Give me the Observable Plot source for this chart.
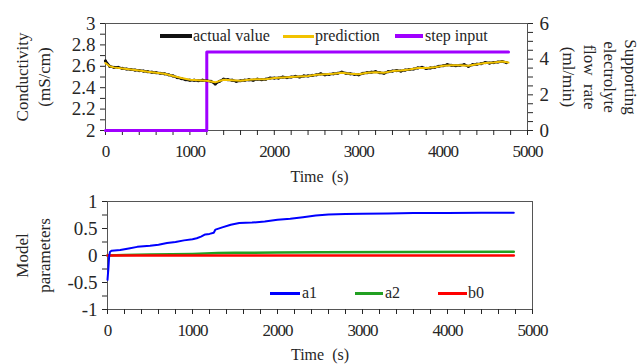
<!DOCTYPE html>
<html><head><meta charset="utf-8">
<script src="https://cdn.jsdelivr.net/npm/d3@7"></script>
<script src="https://cdn.jsdelivr.net/npm/@observablehq/plot@0.6"></script>
<style>
body{margin:0;background:#fff;}
#chart{position:relative;width:640px;height:364px;font-family:"Liberation Serif","Times New Roman",Tinos,"DejaVu Serif",serif;color:#262626;overflow:hidden;background:#fff}
#chart svg{position:absolute;left:0}
#chart svg text{font-family:"Liberation Serif","Times New Roman",Tinos,"DejaVu Serif",serif}
.lg{position:absolute;font-family:"Liberation Serif","Times New Roman",serif;font-size:16px;line-height:16px;white-space:pre;color:#262626}
.sw{position:absolute}
[aria-label="x-axis tick label"]{letter-spacing:-1px}
</style></head><body><div id="chart"></div>
<script>
// ---- top panel data ----
const actualTime = [0,50,100,150,200,250,300,350,400,450,500,550,600,650,700,750,800,850,900,950,
  1000,1050,1100,1150,1200,1250,1300,1350,1400,1450,1500,1550,1600,1650,1700,1750,1800,1850,1900,1950,
  2000,2050,2100,2150,2200,2250,2300,2350,2400,2450,2500,2550,2600,2650,2700,2750,2800,2850,2900,2950,
  3000,3050,3100,3150,3200,3250,3300,3350,3400,3450,3500,3550,3600,3650,3700,3750,3800,3850,3900,3950,
  4000,4050,4100,4150,4200,4250,4300,4350,4400,4450,4500,4550,4600,4650,4700,4750];
const actualValue = [2.65,2.60,2.59,2.59,2.58,2.575,2.57,2.565,2.56,2.555,
  2.55,2.545,2.54,2.535,2.53,2.52,2.51,2.495,2.485,2.475,
  2.47,2.47,2.465,2.47,2.465,2.46,2.435,2.46,2.48,2.475,
  2.47,2.46,2.465,2.47,2.475,2.47,2.48,2.475,2.48,2.49,
  2.49,2.49,2.5,2.495,2.5,2.505,2.5,2.51,2.51,2.515,
  2.52,2.53,2.52,2.525,2.53,2.535,2.545,2.535,2.53,2.525,
  2.52,2.535,2.54,2.545,2.55,2.54,2.535,2.55,2.555,2.56,
  2.555,2.565,2.57,2.575,2.585,2.59,2.58,2.585,2.59,2.6,
  2.605,2.615,2.61,2.605,2.61,2.615,2.6,2.615,2.62,2.625,
  2.635,2.63,2.635,2.64,2.645,2.635];
const predTime = [0,50,100,200,300,400,500,600,700,800,900,1000,1100,1200,1300,1400,1500,1600,1700,1800,1900,
  2000,2100,2200,2300,2400,2500,2600,2700,2800,2900,3000,3100,3200,3300,3400,3500,3600,3700,3800,3900,
  4000,4100,4200,4300,4400,4500,4600,4700,4775];
const predValue = [2.63,2.60,2.59,2.58,2.57,2.56,2.55,2.54,2.53,2.51,2.49,2.475,2.47,2.465,2.45,2.475,2.47,2.465,2.475,2.48,2.48,
  2.49,2.495,2.5,2.505,2.51,2.52,2.525,2.53,2.54,2.53,2.525,2.54,2.545,2.54,2.555,2.56,2.57,2.585,2.585,2.59,
  2.605,2.61,2.61,2.605,2.62,2.63,2.635,2.645,2.635];
const stepTime = [0,1200,1200,4775];
const stepFlow = [0,0,4.4,4.4];
const xTicks = [0,200,400,600,800,1000,1200,1400,1600,1800,2000,2200,2400,2600,2800,3000,3200,3400,3600,3800,4000,4200,4400,4600,4800,5000];
const xLabels = [0,1000,2000,3000,4000,5000];
const condTicks = [2,2.1,2.2,2.3,2.4,2.5,2.6,2.7,2.8,2.9,3];
const condLabels = [2,2.2,2.4,2.6,2.8,3];
const flowTicks = [0,0.5,1,1.5,2,2.5,3,3.5,4,4.5,5,5.5,6];
const flowLabels = [0,2,4,6];
// ---- bottom panel data ----
const a1Time = [0,10,20,30,50,150,250,350,500,600,700,800,900,1000,1050,1100,1150,1200,1250,1270,1350,1450,1550,1700,1850,2000,2150,2300,2450,2600,2800,3000,3300,3600,4000,4400,4780];
const a1Value = [-0.45,-0.25,0.0,0.07,0.09,0.10,0.13,0.16,0.18,0.20,0.23,0.25,0.28,0.30,0.32,0.35,0.39,0.40,0.42,0.48,0.52,0.57,0.60,0.61,0.63,0.66,0.68,0.71,0.74,0.76,0.77,0.775,0.78,0.785,0.785,0.79,0.79];
const a2Time = [0,200,500,1000,1300,1500,2000,2500,3500,4780];
const a2Value = [0.0,0.01,0.02,0.03,0.045,0.05,0.055,0.06,0.065,0.07];
const b0Time = [0,1000,2000,3000,4000,4780];
const b0Value = [0.0,0.0,0.0,0.0,0.0,0.0];
const paramTicks = [-1,-0.75,-0.5,-0.25,0,0.25,0.5,0.75,1];
const paramLabels = [-1,-0.5,0,0.5,1];

const flowToCond = f => 2 + f / 6; // right axis (0–6) onto left axis (2–3)
const zip = (ts, vs) => ts.map((t, i) => ({t, v: vs[i]}));
const actual = zip(actualTime, actualValue);
const pred = zip(predTime, predValue);
const step = zip(stepTime, stepFlow);
const a1 = zip(a1Time, a1Value), a2 = zip(a2Time, a2Value), b0 = zip(b0Time, b0Value);
const has = (arr, d) => arr.some(v => Math.abs(v - d) < 1e-9);
const ink = "#262626";
const serif = "'Liberation Serif', 'Times New Roman', Tinos, 'DejaVu Serif', serif";
const baseStyle = {fontFamily: serif, fontSize: "19px", color: ink, background: "transparent", overflow: "visible"};

const topPlot = Plot.plot({
  width: 640, height: 190,
  marginTop: 23, marginBottom: 60, marginLeft: 105, marginRight: 113,
  style: baseStyle,
  x: {domain: [0, 5000], label: null},
  y: {domain: [2, 3], label: null},
  marks: [
    Plot.frame({stroke: "#555"}),
    Plot.axisX(xTicks, {tickSize: 5, tickPadding: 9, fontSize: 17, fontFamily: serif, stroke: ink, label: null,
      tickFormat: d => has(xLabels, d) ? String(d) : ""}),
    Plot.axisY(condTicks, {tickSize: 5, tickPadding: 5, fontFamily: serif, stroke: ink, label: null,
      tickFormat: d => has(condLabels, d) ? String(d) : ""}),
    Plot.axisY(flowTicks.map(flowToCond), {anchor: "right", tickSize: 5, tickPadding: 7, fontFamily: serif, stroke: ink, label: null,
      tickFormat: (d, i) => has(flowLabels, flowTicks[i]) ? String(flowTicks[i]) : ""}),
    Plot.line(step, {x: "t", y: d => flowToCond(d.v), stroke: "#a000ff", strokeWidth: 3}),
    Plot.line(actual, {x: "t", y: "v", stroke: "#111", strokeWidth: 2.5}),
    Plot.dot(actual, {x: "t", y: "v", r: 1.6, fill: "#111"}),
    Plot.line(pred, {x: "t", y: "v", stroke: "#f2c200", strokeWidth: 2}),
    Plot.text(["Conductivity\n(mS/cm)"], {text: d => d, frameAnchor: "left", textAnchor: "middle", dx: -74, rotate: -90, fontSize: 17, lineHeight: 1.3, fill: ink}),
    Plot.text(["Supporting\nelectrolyte\nflow\u00a0\u00a0rate\n(ml/min)"], {text: d => d, frameAnchor: "right", textAnchor: "middle", dx: 73, rotate: 90, fontSize: 17, lineHeight: 1.2, fill: ink}),
    Plot.text(["Time\u00a0\u00a0(s)"], {text: d => d, frameAnchor: "bottom", dy: 51, dx: 3, fontSize: 16, fill: ink})
  ]
});

const bottomPlot = Plot.plot({
  width: 640, height: 174,
  marginTop: 11, marginBottom: 55, marginLeft: 107, marginRight: 108,
  style: baseStyle,
  x: {domain: [0, 5000], label: null},
  y: {domain: [-1, 1], label: null},
  marks: [
    Plot.frame({stroke: "#555"}),
    Plot.axisX(xTicks, {tickSize: 5, tickPadding: 9, fontSize: 17, fontFamily: serif, stroke: ink, label: null,
      tickFormat: d => has(xLabels, d) ? String(d) : ""}),
    Plot.axisY(paramTicks, {tickSize: 5, tickPadding: 5, fontFamily: serif, stroke: ink, label: null,
      tickFormat: d => has(paramLabels, d) ? String(d) : ""}),
    Plot.line(a2, {x: "t", y: "v", stroke: "#22a022", strokeWidth: 2.5}),
    Plot.line(b0, {x: "t", y: "v", stroke: "#ff0000", strokeWidth: 2.5}),
    Plot.line(a1, {x: "t", y: "v", stroke: "#0000ff", strokeWidth: 2}),
    Plot.text(["Model\nparameters"], {text: d => d, frameAnchor: "left", textAnchor: "middle", dx: -76, rotate: -90, fontSize: 17, lineHeight: 1.3, fill: ink}),
    Plot.text(["Time\u00a0\u00a0(s)"], {text: d => d, frameAnchor: "bottom", dy: 50, fontSize: 16, fill: ink})
  ]
});

const chart = document.getElementById("chart");
topPlot.style.top = "0px";
bottomPlot.style.top = "190px";
chart.appendChild(topPlot);
chart.appendChild(bottomPlot);

// legends
const legendItems = [
  {name: "actual value", color: "#111", sx: 160, sw: 32, th: 4, y: 36, tx: 193},
  {name: "prediction", color: "#f2c200", sx: 283, sw: 31, th: 3, y: 36, tx: 315},
  {name: "step input", color: "#a000ff", sx: 395, sw: 28, th: 4, y: 36, tx: 425},
  {name: "a1", color: "#0000ff", sx: 270, sw: 30, th: 3, y: 293, tx: 302},
  {name: "a2", color: "#22a022", sx: 355, sw: 28, th: 3, y: 293, tx: 385},
  {name: "b0", color: "#ff0000", sx: 438, sw: 29, th: 3, y: 293, tx: 468}
];
for (const it of legendItems) {
  const s = document.createElement("div");
  s.className = "sw";
  Object.assign(s.style, {left: it.sx + "px", width: it.sw + "px", top: (it.y - it.th / 2) + "px", height: it.th + "px", background: it.color});
  chart.appendChild(s);
  const t = document.createElement("div");
  t.className = "lg";
  t.textContent = it.name;
  Object.assign(t.style, {left: it.tx + "px", top: (it.y - 8.5) + "px"});
  chart.appendChild(t);
}
</script>
</body></html>
